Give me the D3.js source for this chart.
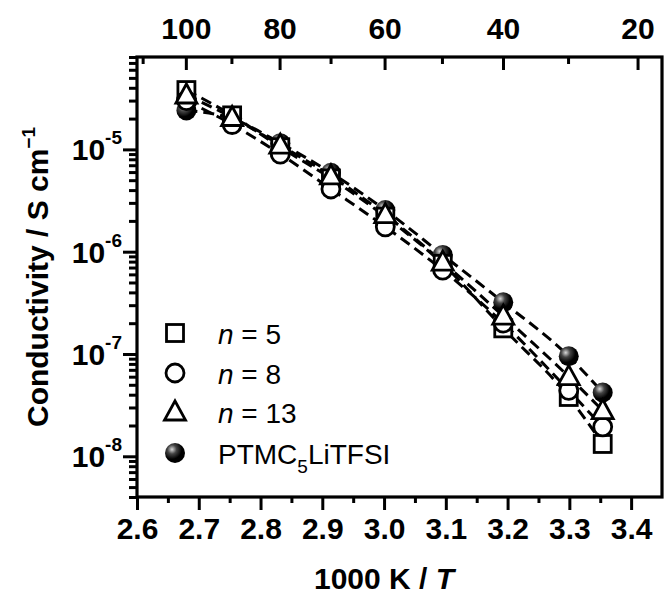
<!DOCTYPE html>
<html>
<head>
<meta charset="utf-8">
<script src="https://cdn.jsdelivr.net/npm/d3@7"></script>
<style>
  body { margin: 0; background: #fff; }
  text { font-family: "Liberation Sans", Arial, sans-serif; }
</style>
</head>
<body>
<div id="viz"></div>
<script>
// data: 1000/T (K^-1) and conductivity (S/cm)
var invT = [2.680, 2.754, 2.832, 2.914, 3.002, 3.095, 3.193, 3.299, 3.354];
var n5   = [3.8e-5, 2.15e-5, 1.05e-5, 5.2e-6, 2.2e-6, 7.6e-7, 1.78e-7, 3.8e-8, 1.32e-8];
var n8   = [3.0e-5, 1.75e-5, 9.0e-6, 4.1e-6, 1.75e-6, 6.6e-7, 2.0e-7, 4.4e-8, 1.94e-8];
var n13  = [3.4e-5, 2.05e-5, 1.1e-5, 5.5e-6, 2.3e-6, 7.9e-7, 2.35e-7, 6.0e-8, 2.8e-8];
var ptmc = [2.4e-5, 2.0e-5, 1.15e-5, 5.9e-6, 2.55e-6, 9.3e-7, 3.2e-7, 9.5e-8, 4.2e-8];

var xMajor = [2.6, 2.7, 2.8, 2.9, 3.0, 3.1, 3.2, 3.3, 3.4];
var xMinor = [2.65, 2.75, 2.85, 2.95, 3.05, 3.15, 3.25, 3.35];
var topMajor = [100, 80, 60, 40, 20];   // deg C
var topMinor = [110, 90, 70, 50, 30];
var yMajor = [-5, -6, -7, -8];

var svg = d3.select("#viz")
  .append("svg")
  .attr("width", 669)
  .attr("height", 598);

var pLeft = 137, pRight = 662, pTop = 57, pBottom = 497;

var x = d3.scaleLinear().domain([2.6, 3.45]).range([pLeft, pRight]);
var y = d3.scaleLog().domain([4e-9, 8e-5]).range([pBottom, pTop]);
function tx(c) { return x(1000 / (c + 273.15)); }

// sphere gradient
var grad = svg.append("defs").append("radialGradient")
  .attr("id", "ball").attr("cx", "35%").attr("cy", "32%").attr("r", "65%");
grad.append("stop").attr("offset", "0%").attr("stop-color", "#d8d8d8");
grad.append("stop").attr("offset", "35%").attr("stop-color", "#444");
grad.append("stop").attr("offset", "75%").attr("stop-color", "#000");

// frame
svg.append("rect")
  .attr("x", pLeft).attr("y", pTop)
  .attr("width", pRight - pLeft).attr("height", pBottom - pTop)
  .style("fill", "none").style("stroke", "#000").style("stroke-width", 3.2);

// bottom axis
var xa = svg.append("g").attr("transform", "translate(0," + pBottom + ")")
  .call(d3.axisBottom(x).tickValues(xMajor).tickSize(13).tickPadding(8).tickFormat(d3.format(".1f")));
svg.append("g").attr("transform", "translate(0," + pBottom + ")")
  .call(d3.axisBottom(x).tickValues(xMinor).tickSize(6).tickFormat(""));

// left axis
var minors = [];
for (var e = -9; e <= -5; e++) {
  for (var m = 2; m <= 9; m++) {
    var v = m * Math.pow(10, e);
    if (v >= 4e-9 && v <= 8e-5) minors.push(v);
  }
}
svg.append("g").attr("transform", "translate(" + pLeft + ",0)")
  .call(d3.axisLeft(y).tickValues(yMajor.map(function(p) { return Math.pow(10, p); })).tickSize(14).tickFormat(""));
svg.append("g").attr("transform", "translate(" + pLeft + ",0)")
  .call(d3.axisLeft(y).tickValues(minors).tickSize(8).tickFormat(""));

svg.selectAll(".domain").remove();
svg.selectAll(".tick line").style("stroke", "#000").style("stroke-width", 3);
xa.selectAll(".tick text")
  .style("font-size", "30px").style("font-weight", "bold").style("fill", "#000")
  .style("font-family", "Liberation Sans, Arial, sans-serif");

// y tick labels 10^n
var yl = svg.selectAll(".ylab").data(yMajor).enter()
  .append("text")
  .attr("class", "ylab")
  .attr("x", 122)
  .attr("y", function(d) { return y(Math.pow(10, d)) + 11; })
  .attr("text-anchor", "end")
  .style("font-weight", "bold").style("font-size", "30px");
yl.append("tspan").text("10");
yl.append("tspan").attr("dy", -16).style("font-size", "19px").text(function(d) { return "-" + (-d); });

// top axis (deg C), ticks inward
svg.selectAll(".tmaj").data(topMajor).enter().append("line")
  .attr("x1", tx).attr("x2", tx).attr("y1", pTop).attr("y2", pTop + 13)
  .style("stroke", "#000").style("stroke-width", 3);
svg.selectAll(".tmin").data(topMinor).enter().append("line")
  .attr("x1", tx).attr("x2", tx).attr("y1", pTop).attr("y2", pTop + 7)
  .style("stroke", "#000").style("stroke-width", 3);
svg.selectAll(".tlab").data(topMajor).enter().append("text")
  .attr("x", tx).attr("y", 39)
  .attr("text-anchor", "middle")
  .style("font-weight", "bold").style("font-size", "30px")
  .text(function(d) { return d; });

// axis titles
var xt = svg.append("text").attr("x", 384).attr("y", 589).attr("text-anchor", "middle")
  .style("font-weight", "bold").style("font-size", "30px");
xt.append("tspan").text("1000 K / ");
xt.append("tspan").style("font-style", "italic").text("T");

var yt = svg.append("text")
  .attr("transform", "translate(48,277) rotate(-90)")
  .attr("text-anchor", "middle")
  .style("font-weight", "bold").style("font-size", "30px");
yt.append("tspan").text("Conductivity / S cm");
yt.append("tspan").attr("dy", -13).style("font-size", "19px").text("\u22121");

// series
var series = [
  { name: "n5", vals: n5, shape: "square" },
  { name: "n8", vals: n8, shape: "circle" },
  { name: "n13", vals: n13, shape: "triangle" },
  { name: "ptmc", vals: ptmc, shape: "ball" }
];

var line = d3.line()
  .x(function(d) { return x(d[0]); })
  .y(function(d) { return y(d[1]); })
  .curve(d3.curveMonotoneX);

series.forEach(function(s) {
  svg.append("path")
    .datum(invT.map(function(t, i) { return [t, s.vals[i]]; }))
    .attr("d", line)
    .style("fill", "none").style("stroke", "#000")
    .style("stroke-width", 3).style("stroke-dasharray", "11,6");
});

function marker(g, shape) {
  if (shape === "square") {
    g.append("rect").attr("x", -8.5).attr("y", -8.5).attr("width", 17).attr("height", 17)
      .style("fill", "#fff").style("stroke", "#000").style("stroke-width", 2.8);
  } else if (shape === "circle") {
    g.append("circle").attr("r", 9)
      .style("fill", "#fff").style("stroke", "#000").style("stroke-width", 2.8);
  } else if (shape === "triangle") {
    g.append("path").attr("d", "M0,-11L10.5,8L-10.5,8Z")
      .style("fill", "#fff").style("stroke", "#000").style("stroke-width", 2.8);
  } else {
    g.append("circle").attr("r", 10).style("fill", "url(#ball)");
  }
}

var order = [series[3], series[0], series[1], series[2]];
order.forEach(function(s) {
  svg.selectAll(".m-" + s.name).data(s.vals).enter()
    .append("g")
    .attr("class", "m-" + s.name)
    .attr("transform", function(d, i) { return "translate(" + x(invT[i]) + "," + y(d) + ")"; })
    .each(function() { marker(d3.select(this), s.shape); });
});

// legend
var legY = [333, 373, 412, 453];
series.forEach(function(s, i) {
  var g = svg.append("g").attr("transform", "translate(175," + legY[i] + ")");
  marker(g, s.shape);
  var t = svg.append("text").attr("x", 218).attr("y", legY[i] + 11).style("font-size", "28px");
  if (i < 3) {
    t.append("tspan").style("font-style", "italic").text("n");
    t.append("tspan").text([" = 5", " = 8", " = 13"][i]);
  } else {
    t.append("tspan").text("PTMC");
    t.append("tspan").attr("dy", 9).style("font-size", "19px").text("5");
    t.append("tspan").attr("dy", -9).text("LiTFSI");
  }
});
</script>
</body>
</html>
